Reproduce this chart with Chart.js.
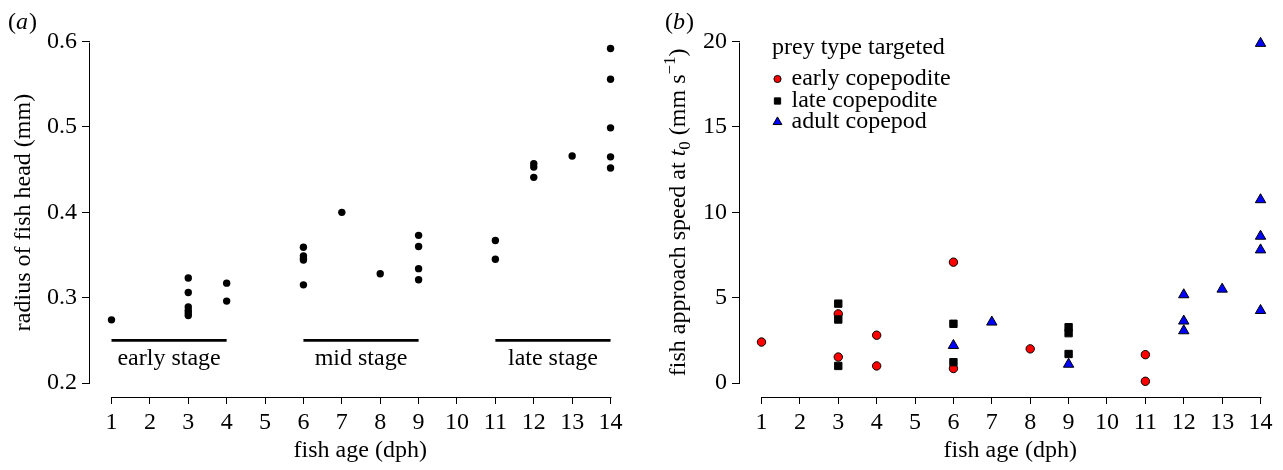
<!DOCTYPE html>
<html>
<head>
<meta charset="utf-8">
<script src="https://cdn.jsdelivr.net/npm/chart.js@4/dist/chart.umd.min.js"></script>
<style>
  html, body { margin: 0; padding: 0; background: #fff; }
  #wrapA { position: absolute; left: 0; top: 0; width: 633px; height: 470px; }
  #wrapB { position: absolute; left: 650px; top: 0; width: 633px; height: 470px; }
</style>
</head>
<body>
<div id="wrapA"><canvas id="chartA"></canvas></div>
<div id="wrapB"><canvas id="chartB"></canvas></div>
<script>
// ---- data ----
const ageTicks = [1, 2, 3, 4, 5, 6, 7, 8, 9, 10, 11, 12, 13, 14];

// panel (a): radius of fish head
const headAge = [1, 3, 3, 3, 3, 3, 3, 4, 4, 6, 6, 6, 6, 6, 7, 8, 9, 9, 9, 9, 11, 11, 12, 12, 12, 13, 14, 14, 14, 14, 14];
const headRadius = [0.274, 0.323, 0.306, 0.289, 0.285, 0.282, 0.279, 0.317, 0.296,
  0.359, 0.349, 0.346, 0.344, 0.315, 0.400, 0.328, 0.373, 0.360, 0.334, 0.321,
  0.367, 0.345, 0.457, 0.453, 0.441, 0.466, 0.592, 0.556, 0.499, 0.465, 0.452];
const headTicks = [0.2, 0.3, 0.4, 0.5, 0.6];

const stageNames = ["early stage", "mid stage", "late stage"];
const stageStart = [1, 6, 11];
const stageEnd = [4, 9, 14];
const stageLevel = 0.25;

// panel (b): approach speed
const earlyAge = [1, 3, 3, 4, 4, 6, 6, 8, 11, 11];
const earlySpeed = [2.4, 4.05, 1.52, 2.8, 1.0, 7.08, 0.85, 2.0, 1.66, 0.1];
const lateAge = [3, 3, 3, 6, 6, 9, 9, 9];
const lateSpeed = [4.65, 3.72, 1.0, 3.47, 1.22, 3.27, 2.92, 1.7];
const adultAge = [6, 7, 9, 12, 12, 12, 13, 14, 14, 14, 14, 14];
const adultSpeed = [2.2, 3.57, 1.1, 5.17, 3.63, 3.06, 5.5, 19.9, 10.74, 8.6, 7.8, 4.25];
const speedTicks = [0, 5, 10, 15, 20];

const preyNames = ["early copepodite", "late copepodite", "adult copepod"];

// ---- common settings ----
const serif = "'Liberation Serif', 'Times New Roman', serif";
Chart.defaults.font.family = serif;
Chart.defaults.color = "#000";

function pairs(xs, ys) {
  return xs.map((x, i) => ({ x: x, y: ys[i] }));
}

function setTicks(values) {
  return function (scale) {
    scale.ticks = values.map((v) => ({ value: v }));
  };
}

function xScale(title) {
  return {
    type: "linear",
    min: 0.44,
    max: 14.52,
    afterBuildTicks: setTicks(ageTicks),
    afterFit: (s) => { s.height = 73; },
    border: { display: false },
    grid: { drawOnChartArea: false, color: "#000", tickLength: 7, lineWidth: 1 },
    ticks: { font: { size: 24 }, padding: 4, maxRotation: 0, autoSkip: false, color: "#000" },
    title: { display: true, text: title, font: { size: 24 }, padding: { bottom: 4.6 }, color: "#000" }
  };
}

function yScale(min, max, values, title) {
  return {
    type: "linear",
    min: min,
    max: max,
    afterBuildTicks: setTicks(values),
    afterFit: (s) => { s.width = 90; },
    border: { display: false },
    grid: { drawOnChartArea: false, color: "#000", tickLength: 8, lineWidth: 1 },
    ticks: { font: { size: 24 }, padding: 5, autoSkip: false, color: "#000" },
    title: { display: !!title, text: title || "", font: { size: 24 }, padding: { top: 9.6 }, color: "#000" }
  };
}

// R style axis lines that only run from first to last tick
const axisLines = {
  id: "axisLines",
  afterDraw(chart, args, opts) {
    const { ctx, chartArea } = chart;
    const x = chart.scales.x, y = chart.scales.y;
    ctx.save();
    ctx.strokeStyle = "#000";
    ctx.lineWidth = 1;
    ctx.beginPath();
    const by = Math.round(chartArea.bottom) + 0.5;
    ctx.moveTo(Math.round(x.getPixelForValue(ageTicks[0])) + 0.5, by);
    ctx.lineTo(Math.round(x.getPixelForValue(ageTicks[ageTicks.length - 1])) + 0.5, by);
    const lx = Math.round(chartArea.left) - 0.5;
    ctx.moveTo(lx, Math.round(y.getPixelForValue(opts.yFirst)) + 0.5);
    ctx.lineTo(lx, Math.round(y.getPixelForValue(opts.yLast)) + 0.5);
    ctx.stroke();

    // panel letter
    ctx.fillStyle = "#000";
    ctx.textBaseline = "alphabetic";
    ctx.textAlign = "left";
    let px = opts.letterX;
    const py = 29;
    ctx.font = "24px " + serif;
    ctx.fillText("(", px, py);
    px += ctx.measureText("(").width;
    ctx.font = "italic 24px " + serif;
    ctx.fillText(opts.letter, px, py);
    px += ctx.measureText(opts.letter).width + 1;
    ctx.font = "24px " + serif;
    ctx.fillText(")", px, py);
    ctx.restore();
  }
};

// ---- panel (a) ----
const stageLabels = {
  id: "stageLabels",
  afterDatasetsDraw(chart) {
    const { ctx } = chart;
    const x = chart.scales.x, y = chart.scales.y;
    ctx.save();
    ctx.fillStyle = "#000";
    ctx.font = "24px " + serif;
    ctx.textAlign = "center";
    ctx.textBaseline = "middle";
    stageNames.forEach((name, i) => {
      const cx = x.getPixelForValue((stageStart[i] + stageEnd[i]) / 2);
      const cy = y.getPixelForValue(stageLevel) + 18;
      ctx.fillText(name, cx, cy);
    });
    ctx.restore();
  }
};

const stageSets = stageNames.map((name, i) => ({
  type: "line",
  label: name,
  data: [{ x: stageStart[i], y: stageLevel }, { x: stageEnd[i], y: stageLevel }],
  borderColor: "#000",
  borderWidth: 2.6,
  pointRadius: 0,
  showLine: true,
  fill: false
}));

new Chart(document.getElementById("chartA"), {
  type: "scatter",
  data: {
    datasets: [
      {
        label: "radius",
        data: pairs(headAge, headRadius),
        pointRadius: 3.7,
        pointBackgroundColor: "#000",
        pointBorderWidth: 0
      }
    ].concat(stageSets)
  },
  options: {
    responsive: true,
    maintainAspectRatio: false,
    animation: false,
    events: [],
    layout: { autoPadding: false, padding: { top: 28, right: 2.5, left: 0, bottom: 0 } },
    scales: {
      x: xScale("fish age (dph)"),
      y: yScale(0.1836, 0.616, headTicks, "radius of fish head (mm)")
    },
    plugins: {
      legend: { display: false },
      tooltip: { enabled: false },
      axisLines: { yFirst: 0.2, yLast: 0.6, letter: "a", letterX: 8 }
    }
  },
  plugins: [axisLines, stageLabels]
});

// ---- panel (b) ----
const markerStyles = [
  { pointStyle: "circle", radius: 4.2, fill: "#ff0000" },
  { pointStyle: "rect", radius: 5.2, fill: "#000000" },
  { pointStyle: "triangle", radius: 6, fill: "#0000ff" }
];

const preyLegend = {
  id: "preyLegend",
  afterDatasetsDraw(chart) {
    const { ctx } = chart;
    ctx.save();
    ctx.fillStyle = "#000";
    ctx.font = "24px " + serif;
    ctx.textAlign = "left";
    ctx.textBaseline = "middle";
    ctx.fillText("prey type targeted", 122, 48);
    const rows = [79, 101, 122];
    preyNames.forEach((name, i) => {
      const m = markerStyles[i];
      ctx.fillStyle = m.fill;
      ctx.strokeStyle = "#000";
      ctx.lineWidth = 1;
      Chart.helpers.drawPoint(ctx, { pointStyle: m.pointStyle, radius: m.radius * 0.85, borderWidth: 1, rotation: 0 }, 127.5, rows[i]);
      ctx.fillStyle = "#000";
      ctx.fillText(name, 141.5, rows[i]);
    });

    // y axis title with italic t, subscript and superscript
    const parts = [
      { text: "fish approach speed at ", font: "24px " + serif, dy: 0 },
      { text: "t", font: "italic 24px " + serif, dy: 0 },
      { text: "0", font: "17px " + serif, dy: 5 },
      { text: " (mm s", font: "24px " + serif, dy: 0 },
      { text: "\u22121", font: "17px " + serif, dy: -10 },
      { text: ")", font: "24px " + serif, dy: 0 }
    ];
    const yS = chart.scales.y;
    const cy = (yS.getPixelForValue(speedTicks[0]) + yS.getPixelForValue(speedTicks[speedTicks.length - 1])) / 2;
    ctx.translate(35, cy);
    ctx.rotate(-Math.PI / 2);
    ctx.textBaseline = "alphabetic";
    let total = 0;
    parts.forEach((p) => { ctx.font = p.font; p.w = ctx.measureText(p.text).width; total += p.w; });
    let tx = -total / 2;
    parts.forEach((p) => { ctx.font = p.font; ctx.fillText(p.text, tx, p.dy); tx += p.w; });
    ctx.restore();
  }
};

function preySet(label, xs, ys, m) {
  return {
    label: label,
    data: pairs(xs, ys),
    pointStyle: m.pointStyle,
    pointRadius: m.radius,
    pointBackgroundColor: m.fill,
    pointBorderColor: "#000",
    pointBorderWidth: 1
  };
}

new Chart(document.getElementById("chartB"), {
  type: "scatter",
  data: {
    datasets: [
      preySet(preyNames[1], lateAge, lateSpeed, markerStyles[1]),
      preySet(preyNames[0], earlyAge, earlySpeed, markerStyles[0]),
      preySet(preyNames[2], adultAge, adultSpeed, markerStyles[2])
    ]
  },
  options: {
    responsive: true,
    maintainAspectRatio: false,
    animation: false,
    events: [],
    layout: { autoPadding: false, padding: { top: 28, right: 2.5, left: 0, bottom: 0 } },
    scales: {
      x: xScale("fish age (dph)"),
      y: yScale(-0.82, 20.8, speedTicks, "")
    },
    plugins: {
      legend: { display: false },
      tooltip: { enabled: false },
      axisLines: { yFirst: 0, yLast: 20, letter: "b", letterX: 15 }
    }
  },
  plugins: [axisLines, preyLegend]
});
</script>
</body>
</html>
